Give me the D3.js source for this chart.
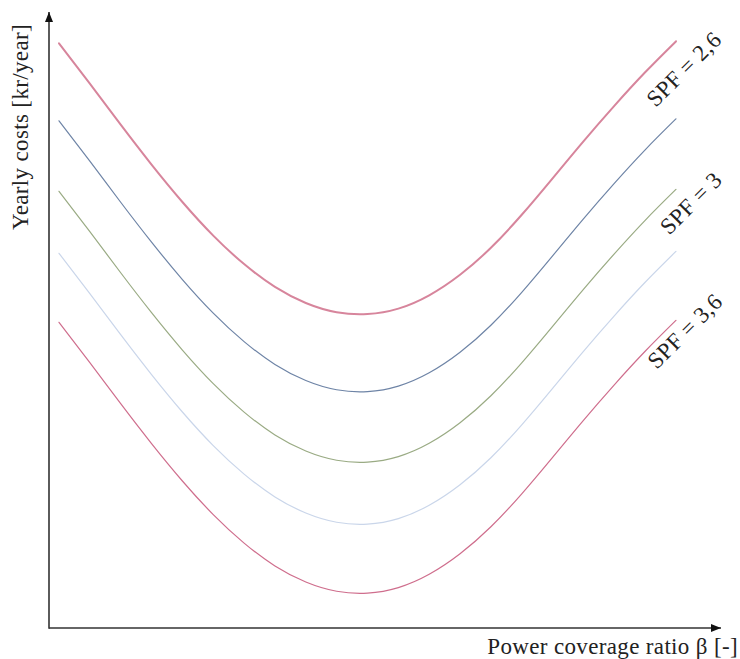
<!DOCTYPE html>
<html>
<head>
<meta charset="utf-8">
<script src="https://cdn.jsdelivr.net/npm/d3@7"></script>
<style>
  html, body { margin: 0; padding: 0; background: #fff; }
  svg { display: block; }
  text { font-family: "Liberation Serif", "DejaVu Serif", serif; fill: #222; }
</style>
</head>
<body>
<svg id="chart" width="740" height="659"></svg>
<script>
// ---- data ----
const beta = [0, 0.05, 0.10, 0.15, 0.20, 0.25, 0.30, 0.35, 0.40, 0.45, 0.50,
              0.55, 0.60, 0.65, 0.70, 0.75, 0.80, 0.85, 0.90, 0.95, 1.00];
const costA = [97.45, 90.72, 83.88, 77.23, 71.00, 65.40, 60.65, 56.85, 54.17, 52.63, 52.32, 53.23, 55.45, 58.87, 63.37, 68.87, 74.95, 81.12, 87.03, 92.62, 97.78];
const costB = [84.53, 77.80, 70.96, 64.31, 58.08, 52.48, 47.73, 43.93, 41.25, 39.71, 39.40, 40.31, 42.53, 45.95, 50.45, 55.95, 62.03, 68.20, 74.11, 79.70, 84.86];
const costC = [72.78, 66.05, 59.21, 52.56, 46.33, 40.73, 35.98, 32.18, 29.50, 27.96, 27.65, 28.56, 30.78, 34.20, 38.70, 44.20, 50.28, 56.45, 62.36, 67.95, 73.11];
const costD = [62.45, 55.72, 48.88, 42.23, 36.00, 30.40, 25.65, 21.85, 19.17, 17.63, 17.32, 18.23, 20.45, 23.87, 28.37, 33.87, 39.95, 46.12, 52.03, 57.62, 62.78];
const costE = [50.95, 44.22, 37.38, 30.73, 24.50, 18.90, 14.15, 10.35, 7.67, 6.13, 5.82, 6.73, 8.95, 12.37, 16.87, 22.37, 28.45, 34.62, 40.53, 46.12, 51.28];
const labelTexts = ["SPF = 2,6", "SPF = 3", "SPF = 3,6"];
const labelSeries = [0, 2, 4];
const xLabel = "Power coverage ratio β [-]";
const yLabel = "Yearly costs [kr/year]";

// ---- styles / layout ----
const colors = ["#d7859c", "#6e84a6", "#9aab84", "#cad6ea", "#cf6e8d"];
const widths = [2.0, 1.2, 1.2, 1.2, 1.2];
const labelOffsets = [[8, 28], [15, 14], [9, 11]];
const fontSize = 23;
const letterSpacing = 0.35;

const svg = d3.select("#chart");
const x = d3.scaleLinear().domain([0, 1]).range([59, 676]);
const y = d3.scaleLinear().domain([0, 100]).range([628, 28]);

const allSeries = [costA, costB, costC, costD, costE];

// arrow marker
svg.append("defs").append("marker")
  .attr("id", "arrow")
  .attr("viewBox", "0 0 10 10")
  .attr("refX", 10).attr("refY", 5)
  .attr("markerWidth", 10).attr("markerHeight", 10)
  .attr("markerUnits", "userSpaceOnUse")
  .attr("orient", "auto")
  .append("path").attr("d", "M0,1 L10,5 L0,9 Z").attr("fill", "#111");

const xAxisStart = x(0) - 10, xAxisEnd = x(1) + 45;
const yAxisTop = y(100) - 16;

// axes
svg.append("line")
  .attr("x1", xAxisStart).attr("y1", y(0))
  .attr("x2", xAxisEnd).attr("y2", y(0))
  .attr("stroke", "#333").attr("stroke-width", 1.6)
  .attr("marker-end", "url(#arrow)");
svg.append("line")
  .attr("x1", xAxisStart).attr("y1", y(0) + 0.8)
  .attr("x2", xAxisStart).attr("y2", yAxisTop)
  .attr("stroke", "#333").attr("stroke-width", 1.6)
  .attr("marker-end", "url(#arrow)");

// curves
const line = d3.line()
  .x((d, i) => x(beta[i]))
  .y(d => y(d))
  .curve(d3.curveNatural);

allSeries.forEach((s, k) => {
  svg.append("path")
    .datum(s)
    .attr("d", line)
    .attr("fill", "none")
    .attr("stroke", colors[k])
    .attr("stroke-width", widths[k])
    .attr("stroke-linecap", "round");
});

// SPF labels
labelTexts.forEach((t, j) => {
  const s = allSeries[labelSeries[j]];
  const cx = x(1) + labelOffsets[j][0];
  const cy = y(s[s.length - 1]) + labelOffsets[j][1];
  svg.append("text")
    .attr("transform", `translate(${cx},${cy}) rotate(-45)`)
    .attr("text-anchor", "middle")
    .attr("dominant-baseline", "central")
    .attr("font-size", fontSize)
    .attr("letter-spacing", letterSpacing)
    .text(t);
});

// axis labels
svg.append("text")
  .attr("x", 738).attr("y", 654)
  .attr("text-anchor", "end")
  .attr("font-size", fontSize)
  .attr("letter-spacing", letterSpacing)
  .text(xLabel);

svg.append("text")
  .attr("transform", `translate(28, 127) rotate(-90)`)
  .attr("text-anchor", "middle")
  .attr("font-size", fontSize)
  .attr("letter-spacing", letterSpacing)
  .text(yLabel);
</script>
</body>
</html>
